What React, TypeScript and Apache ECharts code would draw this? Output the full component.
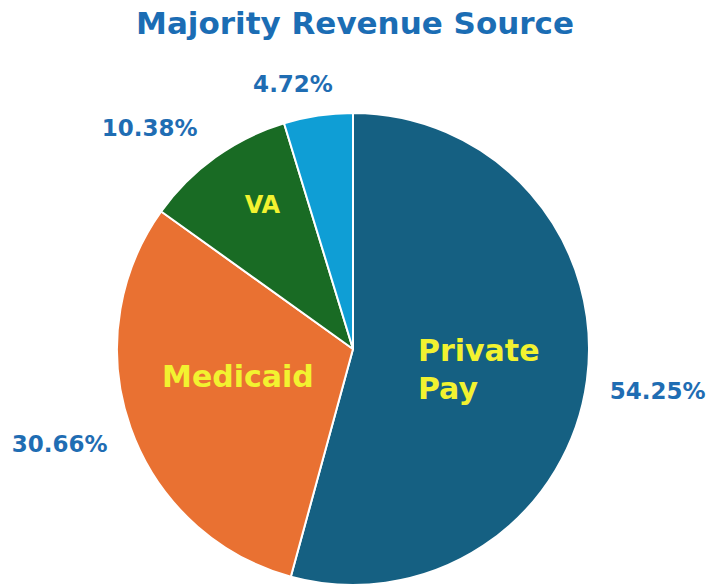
import React, { useEffect, useRef } from "react";
import * as echarts from "echarts";

const title = "Majority Revenue Source";
const categories = ["Private Pay", "Medicaid", "VA", "Other"];
const shares = [54.25, 30.66, 10.38, 4.72];
const sliceColors = ["#156082", "#E97132", "#196B24", "#0F9ED5"];
const showInnerName = [true, true, true, false];

// label fine-tuning offsets (layout, not data)
const innerOffsets = [
  { dx: -55, dy: 4, align: "left" },
  { dx: -1, dy: -13 },
  { dx: -20, dy: -46 },
  { dx: 0, dy: 0 },
];
const outerOffsets = [
  { dx: -2, dy: 9 },
  { dx: 1, dy: 11 },
  { dx: 1, dy: -17 },
  { dx: 27, dy: -17 },
];

export default function App() {
  const ref = useRef<HTMLDivElement>(null);
  useEffect(() => {
    if (!ref.current) return;
    const chart = echarts.init(ref.current, null, { renderer: "svg" });
    const base = categories.map((name, i) => ({ name, value: shares[i] }));
    chart.setOption({
      animation: false,
      backgroundColor: "#ffffff",
      title: {
        text: title,
        left: "center",
        top: 2,
        textStyle: {
          fontFamily: "DejaVu Sans",
          fontWeight: "bold",
          fontSize: 31,
          color: "#1B6DB4",
        },
      },
      series: [
        {
          type: "pie",
          center: [353, 349],
          radius: [0, 236],
          startAngle: 90,
          clockwise: true,
          avoidLabelOverlap: false,
          itemStyle: { borderColor: "#ffffff", borderWidth: 2 },
          label: {
            show: true,
            position: "inside",
            fontFamily: "DejaVu Sans",
            fontWeight: "bold",
            fontSize: 30,
            lineHeight: 38,
            color: "#F2F230",
            formatter: (p: any) => p.name.split(" ").join("\n"),
          },
          labelLine: { show: false },
          labelLayout: (p: any) => innerOffsets[p.dataIndex],
          data: base.map((d, i) => ({
            ...d,
            itemStyle: { color: sliceColors[i] },
            label: {
              show: showInnerName[i],
              fontSize: d.name === "VA" ? 24 : 30,
            },
          })),
        },
        {
          type: "pie",
          center: [353, 349],
          radius: [0, 236],
          startAngle: 90,
          clockwise: true,
          silent: true,
          avoidLabelOverlap: false,
          itemStyle: { color: "rgba(0,0,0,0)", borderWidth: 0 },
          label: {
            show: true,
            position: "outside",
            distanceToLabelLine: 5,
            fontFamily: "DejaVu Sans",
            fontWeight: "bold",
            fontSize: 23,
            color: "#1F6DB3",
            formatter: (p: any) => `${Number(p.value).toFixed(2)}%`,
          },
          labelLine: { show: false, length: 15, length2: 5 },
          labelLayout: (p: any) => outerOffsets[p.dataIndex],
          data: base,
        },
      ],
    });
    return () => chart.dispose();
  }, []);
  return (
    <div
      ref={ref}
      style={{ position: "fixed", left: 0, top: 0, width: 710, height: 587 }}
    />
  );
}
